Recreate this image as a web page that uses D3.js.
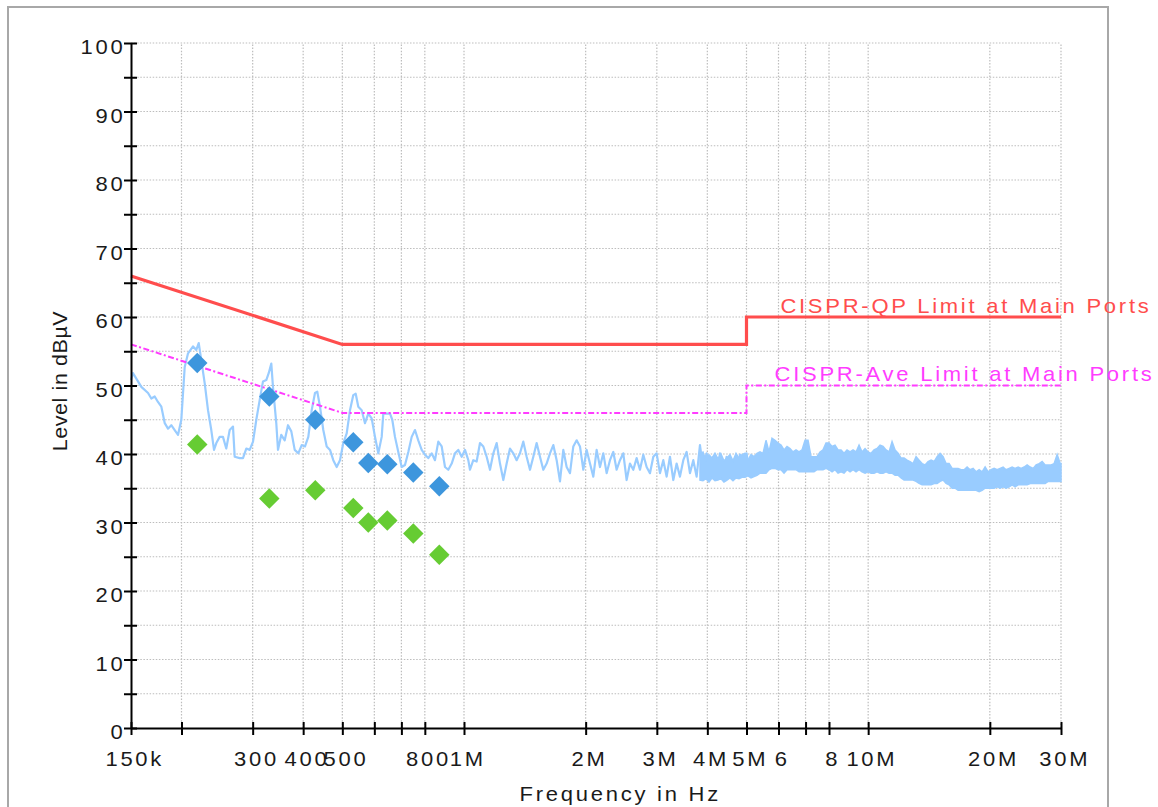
<!DOCTYPE html>
<html>
<head>
<meta charset="utf-8">
<script src="https://cdn.jsdelivr.net/npm/d3@7"></script>
<style>
  body { margin: 0; background: #fff; }
  text { font-family: "Liberation Sans", Arial, sans-serif; fill: #1a1a1a; }
</style>
</head>
<body>
<svg id="chart" width="1158" height="807"></svg>
<script>
/* global d3 */

// Limit lines (Hz / dBµV)
const limitFreq = [150e3, 500e3, 5e6, 5e6, 30e6];
const qpLimit = [66, 56, 56, 60, 60];
const avLimit = [56, 46, 46, 50, 50];

// Final measurement points (kHz)
const finalFreq = [218.8, 329.8, 428.6, 532.2, 579.7, 646.0, 749.1, 868.7];
const finalQP = [53.3, 48.4, 45.0, 41.7, 38.7, 38.5, 37.3, 35.3];
const finalAV = [41.4, 33.5, 34.7, 32.1, 30.0, 30.3, 28.4, 25.3];

// Preview scan, peak detector [kHz, dBµV]
const scanPeak = [
  [150, 50.8], [151.7, 51.8], [159.1, 49.8], [165.3, 48.9], [168.4, 48.1], [171.7, 48.4],
  [174.9, 47.6], [178.3, 46.9], [181.8, 44.5], [185.2, 43.7], [188.7, 44.2], [192.4, 43.5],
  [196.1, 42.8], [199.8, 45.0], [203.7, 52.7], [207.6, 54.7], [213.6, 55.7], [217.6, 55.2],
  [220.6, 56.2], [223.9, 53.7], [228.3, 50.3], [232.6, 46.4], [237.0, 43.5], [240.7, 40.6],
  [243.9, 41.6], [248.6, 42.5], [253.3, 42.5], [258.1, 40.8], [263.2, 43.5], [268.2, 44.0],
  [270.8, 39.6], [278.6, 39.4], [283.9, 39.4], [289.3, 40.8], [295.0, 40.6], [300.6, 41.8],
  [306.3, 45.0], [312.3, 47.9], [318.2, 50.6], [324.2, 50.8], [328.7, 51.8], [333.6, 53.2],
  [336.8, 49.8], [343.2, 44.5], [346.6, 40.6], [353.1, 42.8], [360.1, 42.0], [366.9, 44.2],
  [373.9, 43.3], [381.2, 40.6], [389.1, 40.1], [396.7, 41.3], [404.2, 41.1], [411.9, 42.5],
  [419.9, 46.4], [427.9, 48.9], [433.5, 49.1], [440.3, 46.9], [448.6, 43.5], [457.4, 41.1],
  [466.1, 40.6], [474.9, 39.1], [484.2, 38.1], [493.4, 39.1], [502.8, 41.6], [512.6, 43.0],
  [522.3, 46.4], [532.2, 48.6], [539.6, 48.8], [547.6, 46.9], [558.3, 46.4], [568.9, 44.5],
  [579.7, 45.9], [591.0, 45.2], [602.3, 42.5], [613.7, 40.1], [625.7, 42.5], [631.4, 45.9],
  [643.8, 45.9], [656.0, 45.9], [664.6, 45.0], [674.9, 42.5], [687.8, 40.3], [701.2, 38.1],
  [714.5, 38.4], [728.1, 40.3], [742.3, 42.5], [756.4, 43.5], [770.7, 42.0], [785.8, 40.6],
  [800.7, 39.9], [815.9, 39.4], [831.9, 40.1], [847.7, 39.1], [863.8, 41.8], [880.7, 41.1],
  [897.4, 38.1], [914.4, 37.7], [932.3, 38.6], [950.0, 40.1], [968.0, 40.6], [986.9, 39.6],
  [1005.7, 40.6], [1024.8, 39.1], [1034.7, 37.7], [1054.4, 39.1], [1074.8, 38.9], [1095.4, 41.6],
  [1116.4, 41.1], [1137.8, 39.6], [1159.6, 37.7], [1181.8, 40.1], [1204.5, 41.6], [1227.6, 38.6],
  [1251.1, 36.2], [1275.1, 38.6], [1299.5, 40.8], [1324.4, 40.1], [1349.8, 39.1], [1375.7, 40.1],
  [1402.1, 41.8], [1429.0, 39.6], [1456.4, 37.7], [1484.3, 39.6], [1512.7, 41.6], [1541.7, 39.6],
  [1571.3, 37.7], [1601.4, 38.6], [1632.1, 40.1], [1663.4, 41.3], [1695.3, 39.1], [1727.8, 36.0],
  [1760.9, 40.6], [1794.7, 38.1], [1829.1, 37.2], [1864.1, 41.1], [1899.9, 42.0], [1936.3, 41.1],
  [1973.4, 37.7], [2011.2, 40.6], [2049.8, 38.6], [2089.1, 36.7], [2129.1, 40.6], [2169.9, 38.1],
  [2211.5, 40.1], [2253.9, 37.2], [2297.1, 39.1], [2341.1, 40.3], [2386.0, 37.7], [2431.7, 39.1],
  [2478.3, 40.1], [2525.8, 36.2], [2574.2, 38.6], [2623.6, 37.7], [2673.9, 39.4], [2725.1, 37.7],
  [2777.4, 39.9], [2830.6, 38.1], [2884.9, 37.2], [2940.2, 39.6], [2996.5, 40.1], [3054.0, 37.2],
  [3112.5, 39.1], [3172.2, 36.7], [3233.0, 39.6], [3295.0, 36.2], [3358.1, 38.6], [3422.5, 36.7],
  [3488.1, 39.1], [3555.0, 40.3], [3623.1, 37.2], [3692.6, 39.1], [3763.4, 36.7], [3835.5, 41.3],
  [3909.0, 37.7], [3984.0, 40.1], [4060.3, 36.5], [4138.2, 39.6], [4217.5, 36.9], [4298.3, 40.1],
  [4380.7, 37.2], [4464.7, 39.6], [4550.3, 36.7], [4637.5, 38.6], [4726.4, 36.5], [4817.0, 39.9],
  [4909.3, 37.2], [5003.4, 40.1], [5099.3, 36.9], [5197.1, 39.4], [5296.7, 37.2], [5398.3, 39.6],
];

// Dense part of the scan, read as max / min envelope [kHz, high, low]
const scanBand = [
  [3836, 39.9, 36.2], [3902, 40.3, 36.1], [3969, 39.1, 36.4], [4038, 39.9, 35.9], [4107, 39.4, 36.5],
  [4178, 40.1, 36.1], [4250, 39.3, 36.2], [4324, 40.0, 36.4], [4398, 39.0, 35.9], [4474, 39.4, 36.2],
  [4551, 39.9, 36.5], [4630, 39.0, 36.1], [4710, 40.1, 36.5], [4791, 39.4, 36.4], [4874, 39.9, 36.6],
  [4958, 40.1, 36.6], [5043, 39.1, 36.8], [5130, 39.9, 36.5], [5219, 39.6, 36.7], [5309, 40.1, 36.9],
  [5400, 40.3, 37.2], [5493, 40.1, 37.2], [5588, 42.0, 37.2], [5684, 40.3, 37.7], [5782, 42.3, 37.9],
  [5882, 42.0, 37.9], [5983, 41.6, 37.7], [6087, 41.3, 37.7], [6192, 40.6, 37.2], [6298, 41.1, 37.7],
  [6407, 40.8, 37.7], [6517, 40.3, 37.7], [6630, 40.6, 37.7], [6744, 40.3, 37.4], [6861, 40.6, 37.4],
  [6979, 42.0, 37.4], [7099, 42.0, 37.4], [7222, 39.6, 37.4], [7346, 39.6, 37.4], [7473, 39.6, 37.7],
  [7602, 40.3, 37.7], [7733, 40.6, 37.7], [7866, 41.6, 37.9], [8002, 41.6, 37.7], [8140, 41.1, 37.4],
  [8280, 41.3, 37.7], [8423, 40.6, 37.2], [8568, 40.6, 37.4], [8716, 40.1, 37.2], [8866, 40.6, 37.7],
  [9019, 40.3, 37.4], [9175, 40.6, 37.7], [9333, 40.3, 37.4], [9494, 41.3, 37.7], [9658, 40.3, 37.4],
  [9824, 40.8, 37.2], [9994, 40.3, 37.4], [10166, 40.1, 37.2], [10341, 40.6, 37.2], [10520, 40.8, 37.4],
  [10701, 41.3, 37.2], [10886, 41.1, 37.2], [11074, 40.6, 37.4], [11265, 40.3, 37.2], [11459, 41.8, 37.2],
  [11657, 40.6, 36.9], [11858, 40.1, 36.9], [12062, 39.4, 36.5], [12270, 39.4, 36.2], [12482, 39.1, 36.2],
  [12697, 38.9, 36.2], [12916, 38.6, 36.2], [13139, 39.6, 36.0], [13366, 39.1, 35.7], [13596, 38.6, 35.5],
  [13831, 38.4, 35.5], [14069, 38.9, 35.5], [14312, 39.1, 35.5], [14559, 38.9, 35.7], [14810, 39.6, 35.7],
  [15065, 40.1, 36.0], [15325, 39.6, 36.2], [15589, 38.6, 35.7], [15858, 38.6, 35.5], [16132, 37.9, 35.0],
  [16410, 37.9, 35.0], [16693, 37.9, 34.7], [16981, 37.7, 34.7], [17274, 37.7, 34.7], [17572, 38.1, 34.7],
  [17875, 37.7, 34.7], [18183, 37.9, 34.7], [18497, 37.4, 34.7], [18816, 37.7, 34.5], [19140, 37.4, 34.7],
  [19470, 38.1, 35.0], [19806, 37.4, 35.0], [20148, 37.7, 35.0], [20495, 37.9, 35.0], [20849, 37.7, 35.2],
  [21208, 37.9, 35.0], [21574, 38.1, 35.2], [21946, 37.7, 35.0], [22325, 37.9, 35.2], [22710, 38.1, 35.5],
  [23101, 37.9, 35.2], [23500, 38.1, 35.5], [23905, 37.9, 35.5], [24317, 38.1, 35.5], [24737, 38.4, 35.5],
  [25163, 38.1, 35.7], [25597, 37.9, 35.7], [26039, 38.4, 35.7], [26488, 38.6, 35.7], [26945, 38.9, 35.7],
  [27409, 38.4, 35.7], [27882, 38.4, 36.0], [28363, 38.4, 36.0], [28852, 38.6, 36.0], [29350, 39.9, 36.0],
  [29856, 38.6, 36.0], [30000, 38.6, 36.0],
];

// Axis ticks
const xTickValues = [150e3, 200e3, 300e3, 400e3, 500e3, 600e3, 700e3, 800e3, 1e6,
  2e6, 3e6, 4e6, 5e6, 6e6, 7e6, 8e6, 10e6, 20e6, 30e6];
const xTickLabels = ['150k', '', '300', '400', '500', '', '', '800', '1M',
  '2M', '3M', '4M', '5M', '6', '', '8', '10M', '20M', '30M'];
const yTickValues = d3.range(0, 101, 5);

const svg = d3.select('#chart');
// the original renders its text slightly wide and letter-spaced
const stretch = 1.1;
const spacing = 2.5;
const fontSize = 20;

// outer frame
svg.append('rect')
  .attr('x', 8).attr('y', 7).attr('width', 1100).attr('height', 830)
  .attr('fill', 'none').attr('stroke', '#a8a8a8').attr('stroke-width', 2);

const x = d3.scaleLog().domain([150e3, 30e6]).range([131, 1061]);
const y = d3.scaleLinear().domain([0, 100]).range([728, 43]);

// grid
const grid = svg.append('g').attr('stroke', '#bdbdbd').attr('stroke-width', 1.2)
  .attr('stroke-dasharray', '1.5,1.6');
grid.selectAll('line.h').data(yTickValues.filter(v => v > 0)).enter().append('line')
  .attr('x1', x(150e3)).attr('x2', x(30e6))
  .attr('y1', d => y(d)).attr('y2', d => y(d));
grid.selectAll('line.v').data(xTickValues.slice(1)).enter().append('line')
  .attr('x1', d => x(d)).attr('x2', d => x(d))
  .attr('y1', y(0)).attr('y2', y(100));

// scan trace
svg.append('path').datum(scanPeak)
  .attr('fill', 'none').attr('stroke', '#99ccff').attr('stroke-width', 2.2)
  .attr('stroke-linejoin', 'round')
  .attr('d', d3.line().x(d => x(d[0] * 1e3)).y(d => y(d[1])));
svg.append('path').datum(scanBand)
  .attr('fill', '#99ccff').attr('stroke', '#99ccff').attr('stroke-width', 1.5)
  .attr('d', d3.area().x(d => x(d[0] * 1e3)).y0(d => y(d[2])).y1(d => y(d[1])));

// limit lines
const limitLine = vals => d3.line().x((d, i) => x(limitFreq[i])).y(d => y(d))(vals);
svg.append('path')
  .attr('d', limitLine(avLimit))
  .attr('fill', 'none').attr('stroke', '#ff3cff').attr('stroke-width', 2)
  .attr('stroke-dasharray', '6,2.5,2,2.5');
svg.append('path')
  .attr('d', limitLine(qpLimit))
  .attr('fill', 'none').attr('stroke', '#ff4d4d').attr('stroke-width', 3.2);

// final measurement markers
const diamond = d3.symbol().type(d3.symbolSquare).size(210);
svg.append('g').selectAll('path').data(finalAV).enter().append('path')
  .attr('d', diamond)
  .attr('transform', (d, i) => `translate(${x(finalFreq[i] * 1e3)},${y(d)}) rotate(45)`)
  .attr('fill', '#66cc33');
svg.append('g').selectAll('path').data(finalQP).enter().append('path')
  .attr('d', diamond)
  .attr('transform', (d, i) => `translate(${x(finalFreq[i] * 1e3)},${y(d)}) rotate(45)`)
  .attr('fill', '#3d96dd');

// axes
const xAxis = svg.append('g').attr('transform', `translate(0,${y(0)})`)
  .call(d3.axisBottom(x).tickValues(xTickValues).tickSizeOuter(0)
    .tickFormat((d, i) => xTickLabels[i]));
xAxis.selectAll('.tick line').attr('y1', -6).attr('y2', 7);
xAxis.selectAll('.tick text').attr('y', 38).attr('dy', null)
  .attr('x', (spacing / 2 + 2) / stretch)
  .attr('transform', `scale(${stretch},1)`);

const yAxis = svg.append('g').attr('transform', `translate(${x(150e3)},0)`)
  .call(d3.axisLeft(y).tickValues(yTickValues).tickSizeOuter(0)
    .tickFormat(d => (d % 10 === 0 ? d : '')));
yAxis.selectAll('.tick line').attr('x1', -7).attr('x2', 6);
yAxis.selectAll('.tick text').attr('x', (-8 + spacing) / stretch).attr('y', 10.5).attr('dy', null)
  .attr('transform', `scale(${stretch},1)`);

[xAxis, yAxis].forEach((g) => {
  g.select('.domain').attr('stroke', '#000').attr('stroke-width', 2);
  g.selectAll('.tick line').attr('stroke', '#000').attr('stroke-width', 2);
  g.selectAll('.tick text').attr('font-size', fontSize).attr('fill', '#1a1a1a')
    .attr('font-family', '"Liberation Sans", Arial, sans-serif')
    .style('letter-spacing', `${spacing}px`);
});

// titles
svg.append('text')
  .attr('transform', `translate(${619 + spacing / 2},801) scale(${stretch},1)`)
  .attr('text-anchor', 'middle').attr('font-size', fontSize)
  .style('letter-spacing', `${spacing}px`)
  .text('Frequency in Hz');
svg.append('text')
  .attr('transform', 'translate(66.5,381) rotate(-90) scale(1.02,1)')
  .attr('text-anchor', 'middle').attr('font-size', 21)
  .style('letter-spacing', '0.6px')
  .text('Level in dBµV');

// limit labels
svg.append('text')
  .attr('transform', `translate(${1149 + spacing},313) scale(${stretch},1)`)
  .attr('text-anchor', 'end').attr('font-size', fontSize).style('fill', '#ff4d4d')
  .style('letter-spacing', `${spacing}px`)
  .text('CISPR-QP Limit at Main Ports');
svg.append('text')
  .attr('transform', `translate(${1152 + spacing},381) scale(${stretch},1)`)
  .attr('text-anchor', 'end').attr('font-size', fontSize).style('fill', '#ff3cff')
  .style('letter-spacing', `${spacing}px`)
  .text('CISPR-Ave Limit at Main Ports');
</script>
</body>
</html>
